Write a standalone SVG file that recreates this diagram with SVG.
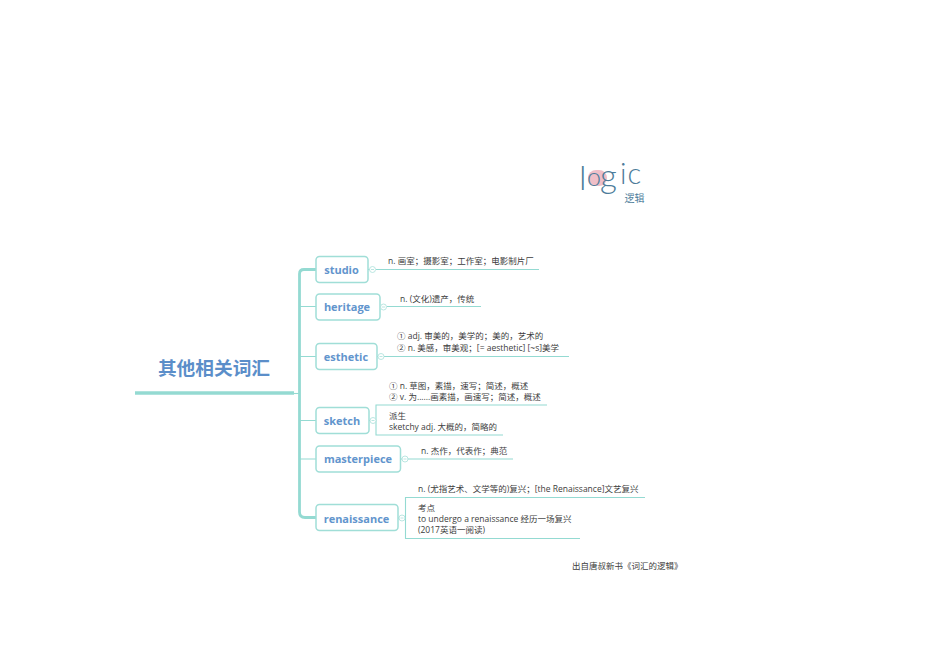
<svg xmlns="http://www.w3.org/2000/svg" width="950" height="672" viewBox="0 0 950 672">
<style>
.bg{fill:#fff}
.n rect{fill:#fff;stroke:#a0ded7;stroke-width:1.5}
.n text{font:700 11px "Open Sans","Noto Sans CJK SC",sans-serif;fill:#6295cd;text-anchor:middle}
.c path,.c line{fill:none;stroke:#94dad2}
.b{stroke-width:1.1}
.f circle{fill:#fff;stroke:#a9dfd9;stroke-width:.8}
.f line{stroke:#a9dfd9;stroke-width:.8}
.x{font:8.5px "Open Sans","Noto Sans CJK SC",sans-serif;fill:#3d3d3d}
.logo{font-family:"Lato",sans-serif;font-weight:300;fill:#4d7c9a}
</style>
<rect class="bg" width="950" height="672"/>
<g id="logo">
<rect x="588" y="170" width="19" height="16" rx="8" fill="#f0bfc8"/>
<text class="logo" font-size="34"><tspan x="579" y="190">l</tspan><tspan x="587" y="186" font-size="25">o</tspan><tspan x="600" y="188" font-size="33">g</tspan></text>
<text class="logo" x="620" y="184" font-size="29" letter-spacing="1">ic</text>
<text x="624.500" y="202" style="font:10px 'Noto Sans CJK SC',sans-serif;fill:#4d7c9a">逻辑</text>
</g>
<g class="c" id="connectors">
<line x1="135" y1="393" x2="294" y2="393" style="stroke-width:3.4"/>
<line x1="294" y1="393.500" x2="299" y2="393.500" class="b"/>
<path d="M316 269.500H304Q299.500 269.500 299.500 274V512Q299.500 517.500 305 517.500H316" style="stroke-width:2.800"/>
<path class="b" d="M300 306.500H316M300 356.500H316M300 420.500H316M300 459H316"/>
<path class="b" d="M368 269.500H370M380 306.500H381M377 356.500H378M369 420.500H370M400.500 459H402M398 518H399"/>
<path class="b" d="M376 269.500H539M387 306.500H481M384 356.500H569"/>
<path class="b" d="M547 405H376V435H503"/>
<path class="b" d="M408 459H513"/>
<path class="b" d="M645 497.500H405.500V538.500H580"/>
</g>
<g id="title"><text x="214" y="375" style="font:700 18.700px 'Noto Sans CJK SC',sans-serif;fill:#5b8ec9;text-anchor:middle">其他相关词汇</text></g>
<g class="n" id="n-studio"><rect x="316" y="256.500" width="52" height="26" rx="3.500"/><text x="341.500" y="274">studio</text></g>
<g class="n" id="n-heritage"><rect x="316" y="294" width="64" height="26" rx="3.500"/><text x="347" y="311">heritage</text></g>
<g class="n" id="n-esthetic"><rect x="316" y="343.500" width="61" height="26" rx="3.500"/><text x="346" y="361">esthetic</text></g>
<g class="n" id="n-sketch"><rect x="316" y="407.500" width="53" height="26" rx="3.500"/><text x="342" y="425">sketch</text></g>
<g class="n" id="n-masterpiece"><rect x="316" y="446" width="84.500" height="26" rx="3.500"/><text x="358" y="463">masterpiece</text></g>
<g class="n" id="n-renaissance"><rect x="316" y="504.500" width="82" height="26" rx="3.500"/><text x="356.500" y="522.500">renaissance</text></g>
<g class="f" id="folds">
<circle cx="372.500" cy="269.500" r="3"/><line x1="371" y1="269.500" x2="374" y2="269.500"/>
<circle cx="383.500" cy="307" r="3"/><line x1="382" y1="307" x2="385" y2="307"/>
<circle cx="381" cy="356.500" r="3"/><line x1="379.500" y1="356.500" x2="382.500" y2="356.500"/>
<circle cx="373" cy="420.500" r="3"/><line x1="371.500" y1="420.500" x2="374.500" y2="420.500"/>
<circle cx="405" cy="459" r="3"/><line x1="403.500" y1="459" x2="406.500" y2="459"/>
<circle cx="402" cy="518" r="3"/><line x1="400.500" y1="518" x2="403.500" y2="518"/>
</g>
<g id="texts">
<text class="x" x="388" y="264">n. 画室；摄影室；工作室；电影制片厂</text>
<text class="x" x="400" y="302">n. (文化)遗产，传统</text>
<text class="x" x="397" y="339">① adj. 审美的，美学的；美的，艺术的</text>
<text class="x" x="397" y="350.500">② n. 美感，审美观；[= aesthetic] [~s]美学</text>
<text class="x" x="389" y="388.500">① n. 草图，素描，速写；简述，概述</text>
<text class="x" x="389" y="400">② v. 为......画素描，画速写；简述，概述</text>
<text class="x" x="389" y="419">派生</text>
<text class="x" x="389" y="429.500">sketchy adj. 大概的，简略的</text>
<text class="x" x="421" y="454">n. 杰作，代表作；典范</text>
<text class="x" x="418" y="491.500">n. (尤指艺术、文学等的)复兴；[the Renaissance]文艺复兴</text>
<text class="x" x="418" y="510.500">考点</text>
<text class="x" x="418" y="521.500">to undergo a renaissance 经历一场复兴</text>
<text class="x" x="418" y="532.500">(2017英语一阅读)</text>
<text class="x" x="572" y="569">出自唐叔新书《词汇的逻辑》</text>
</g>
</svg>
